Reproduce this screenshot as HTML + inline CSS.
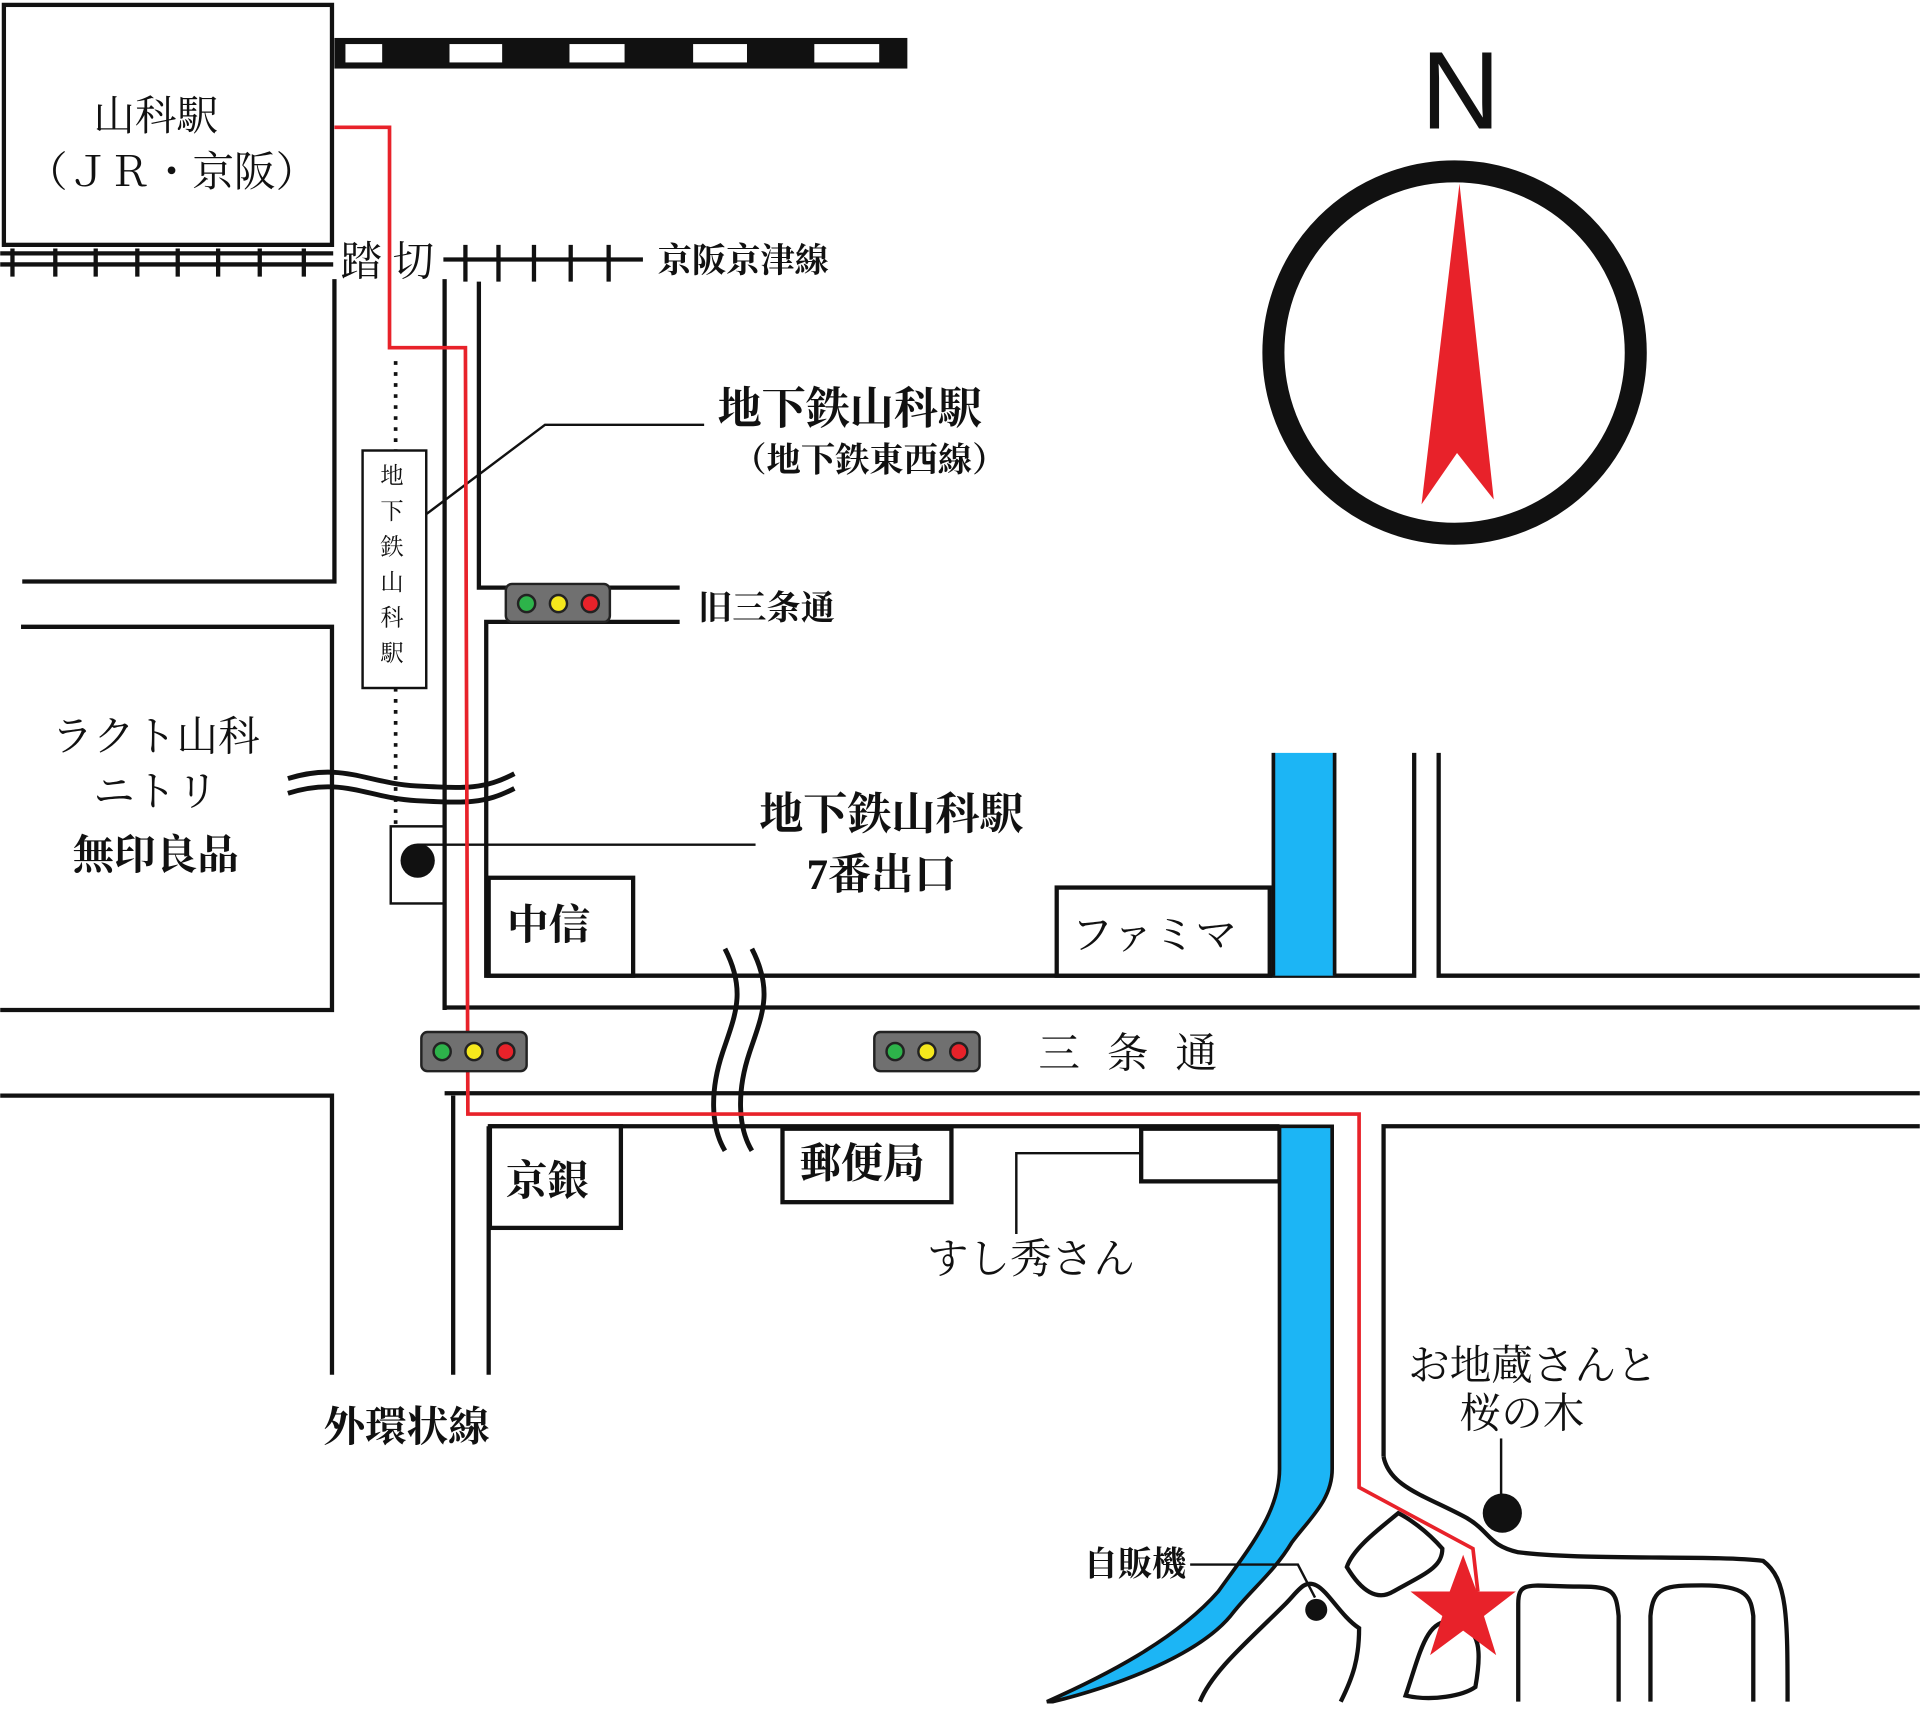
<!DOCTYPE html>
<html><head><meta charset="utf-8"><style>
html,body{margin:0;padding:0;background:#fff;}
svg{display:block}
text{font-family:"Liberation Serif","Noto Serif CJK SC","Noto Sans CJK JP",serif;fill:#111}
</style></head><body>
<svg width="1920" height="1709" viewBox="0 0 1568 1396" xmlns="http://www.w3.org/2000/svg">
<rect width="1568" height="1396" fill="#fff"/>
<g fill="none" stroke="#111" stroke-width="3.5">
<rect x="3" y="4" width="268" height="196"/>
<line x1="0" y1="207" x2="272" y2="207"/>
<line x1="0" y1="216" x2="272" y2="216"/>
<line x1="362" y1="212" x2="525" y2="212"/>
<path d="M10 203V226M45 203V226M78 203V226M112 203V226M145 203V226M178 203V226M212 203V226M248 203V226M380 200V230M407 200V230M436 200V230M466 200V230M497 200V230"/>
<path d="M273 228V475H18"/>
<path d="M17 512H271V825H0"/>
<path d="M0 895H271V1123"/>
<path d="M363 228V825"/>
<path d="M391 230V480H555"/>
<path d="M555 508H397V797H1155V615"/>
<path d="M1175 615V797H1568"/>
<path d="M363 823H1568"/>
<path d="M363 893H1568"/>
<path d="M370 895V1123"/>
<path d="M399 920H1045"/>
<path d="M399 920V1123"/>
<path d="M1130 1190V920H1568"/>
<rect x="399" y="717" width="118" height="80" fill="#fff"/>
<rect x="863" y="725" width="174" height="72" fill="#fff"/>
<rect x="400" y="920" width="107" height="83" fill="#fff"/>
<rect x="639" y="922" width="138" height="60" fill="#fff"/>
<rect x="932" y="922" width="113" height="43" fill="#fff"/>
<rect x="319" y="675" width="44" height="63" stroke-width="2"/>
<path d="M1130 1190C1135 1215 1165 1222 1198 1240 1218 1252 1215 1262 1240 1268 1300 1275 1400 1270 1440 1275 1460 1290 1460 1320 1460 1390"/>
<path d="M1240 1390V1310C1240 1290 1250 1296 1290 1296 1318 1296 1320 1300 1322 1320V1390"/>
<path d="M1348 1390V1320C1350 1296 1360 1295 1390 1295 1428 1295 1430 1305 1432 1320V1390"/>
<path d="M1142 1236C1125 1250 1105 1265 1100 1280 1112 1300 1125 1308 1138 1300 1165 1285 1178 1280 1178 1265 1165 1250 1150 1240 1142 1236Z"/>
<path d="M1188 1325C1165 1320 1160 1350 1148 1385 1170 1390 1195 1385 1205 1378 1210 1350 1210 1330 1188 1325Z"/>
<path d="M1095 1390C1105 1370 1110 1355 1110 1330 1095 1320 1085 1300 1075 1295 1065 1290 1060 1300 1050 1310 1020 1340 990 1365 980 1390"/>
</g>
<rect x="273" y="31" width="468" height="25" fill="#111"/>
<g fill="#fff"><rect x="282" y="36" width="30" height="15"/><rect x="367" y="36" width="43" height="15"/><rect x="465" y="36" width="45" height="15"/><rect x="566" y="36" width="44" height="15"/><rect x="665" y="36" width="53" height="15"/></g>
<rect x="1040" y="615" width="50" height="182" fill="#1cb5f5"/>
<path d="M1045 920H1088V1200C1088 1225 1070 1240 1055 1260 1040 1285 1020 1300 1005 1320 980 1350 920 1375 860 1390H855C900 1370 960 1340 995 1300 1020 1265 1045 1235 1045 1200Z" fill="#1cb5f5" stroke="#111" stroke-width="3"/>
<line x1="1040" y1="615" x2="1040" y2="797" stroke="#111" stroke-width="3"/>
<line x1="1090" y1="615" x2="1090" y2="797" stroke="#111" stroke-width="3"/>
<line x1="323" y1="295" x2="323" y2="368" stroke="#111" stroke-width="3" stroke-dasharray="3 6"/>
<line x1="323" y1="562" x2="323" y2="675" stroke="#111" stroke-width="3" stroke-dasharray="3 6"/>
<rect x="296" y="368" width="52" height="194" fill="#fff" stroke="#111" stroke-width="2"/>
<g font-size="19" text-anchor="middle"><text x="320" y="395">地</text><text x="320" y="424">下</text><text x="320" y="453">鉄</text><text x="320" y="482">山</text><text x="320" y="511">科</text><text x="320" y="540">駅</text></g>
<g stroke="#111" stroke-width="2" fill="none">
<path d="M348 420L445 347H575"/>
<path d="M341 690H617"/>
<path d="M830 1008V942H932"/>
<path d="M1226 1175V1225"/>
<path d="M972 1278H1060L1074 1305"/>
</g>
<circle cx="341" cy="703" r="14" fill="#111"/>
<circle cx="1227" cy="1236" r="16" fill="#111"/>
<circle cx="1075" cy="1315" r="9" fill="#111"/>
<g stroke="#111" stroke-width="4" fill="none">
<path d="M235 636C280 622 300 640 340 642S395 645 420 632"/>
<path d="M235 648C280 634 300 652 340 654S395 657 420 644"/>
<path d="M592 775C610 810 600 830 590 860S580 920 592 940"/>
<path d="M614 775C632 810 622 830 612 860S602 920 614 940"/>
</g>
<path d="M273 104H318V284H380L382 910H1110V1215L1203 1265L1207 1300" fill="none" stroke="#e8222a" stroke-width="3"/>
<g stroke="#222" stroke-width="2">
<rect x="413" y="477" width="85" height="31" rx="5" fill="#707070"/>
<rect x="344" y="843" width="86" height="32" rx="5" fill="#707070"/>
<rect x="714" y="843" width="86" height="32" rx="5" fill="#707070"/>
<circle cx="430" cy="493" r="7" fill="#2db34a"/><circle cx="456" cy="493" r="7" fill="#f5e81c"/><circle cx="482" cy="493" r="7" fill="#e8222a"/>
<circle cx="361" cy="859" r="7" fill="#2db34a"/><circle cx="387" cy="859" r="7" fill="#f5e81c"/><circle cx="413" cy="859" r="7" fill="#e8222a"/>
<circle cx="731" cy="859" r="7" fill="#2db34a"/><circle cx="757" cy="859" r="7" fill="#f5e81c"/><circle cx="783" cy="859" r="7" fill="#e8222a"/>
</g>
<circle cx="1188" cy="288" r="148" fill="none" stroke="#111" stroke-width="18"/>
<path d="M1192 150L1220 408L1190 370L1161 412Z" fill="#e8222a"/>
<text x="1193" y="105" font-size="90" text-anchor="middle" style="font-family:'Liberation Sans',sans-serif">N</text>
<path d="M1195 1270L1206 1300L1238 1300L1212 1320L1222 1352L1195 1332L1168 1352L1178 1320L1152 1300L1184 1300Z" fill="#e8222a"/>
<g font-size="34">
<text x="127" y="106" text-anchor="middle">山科駅</text>
<text x="140" y="152" text-anchor="middle">（ＪＲ・京阪）</text>
<text x="278" y="225">踏 切</text>
<text x="586" y="346" font-weight="bold" font-size="36">地下鉄山科駅</text>
<text x="127" y="613" text-anchor="middle">ラクト山科</text>
<text x="127" y="658" text-anchor="middle">ニトリ</text>
<text x="127" y="710" text-anchor="middle" font-weight="bold">無印良品</text>
<text x="620" y="677" font-weight="bold" font-size="36">地下鉄山科駅</text>
<text x="720" y="726" text-anchor="middle" font-weight="bold" font-size="35">7番出口</text>
<text x="414" y="767" font-weight="bold">中信</text>
<text x="875" y="775">ファミマ</text>
<text x="848" y="872" letter-spacing="22">三条通</text>
<text x="413" y="976" font-weight="bold">京銀</text>
<text x="653" y="962" font-weight="bold">郵便局</text>
<text x="757" y="1040">すし秀さん</text>
<text x="332" y="1177" text-anchor="middle" font-weight="bold">外環状線</text>
<text x="1252" y="1127" text-anchor="middle">お地蔵さんと</text>
<text x="1243" y="1166" text-anchor="middle">桜の木</text>
</g>
<g font-size="28" font-weight="bold">
<text x="537" y="222">京阪京津線</text>
<text x="598" y="385">（地下鉄東西線）</text>
<text x="570" y="506">旧三条通</text>
<text x="885" y="1287">自販機</text>
</g>
</svg>
</body></html>
